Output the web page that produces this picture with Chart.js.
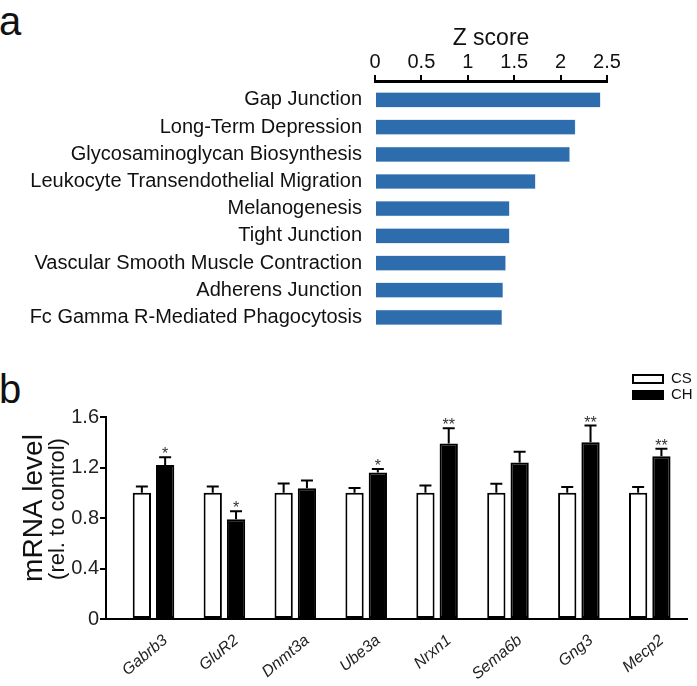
<!DOCTYPE html>
<html>
<head>
<meta charset="utf-8">
<script src="https://cdn.jsdelivr.net/npm/chart.js@4"></script>
<style>
  body { margin: 0; background: #fff; }
  #wrap { position: relative; width: 697px; height: 686px; font-family: 'Liberation Sans', Arial, sans-serif; }
  .panel { position: absolute; left: -1px; font-size: 40px; line-height: 1; color: #111; }
  canvas { position: absolute; left: 0; }
  .axis { position: absolute; background: #000; z-index: 5; }
</style>
</head>
<body>
<div id="wrap">
  <div class="panel" style="top:1px">a</div>
  <div class="panel" style="top:369px">b</div>
  <canvas id="zChart" width="697" height="340" style="top:0"></canvas>
  <canvas id="mrnaChart" width="697" height="346" style="top:340px"></canvas>
</div>
<script>
// panel a
const pathways = [
  'Gap Junction',
  'Long-Term Depression',
  'Glycosaminoglycan Biosynthesis',
  'Leukocyte Transendothelial Migration',
  'Melanogenesis',
  'Tight Junction',
  'Vascular Smooth Muscle Contraction',
  'Adherens Junction',
  'Fc Gamma R-Mediated Phagocytosis'
];
const zScores = [2.43, 2.16, 2.10, 1.73, 1.45, 1.45, 1.41, 1.38, 1.37];
const zTicks = [0, 0.5, 1, 1.5, 2, 2.5];

// panel b
const genes = ['Gabrb3', 'GluR2', 'Dnmt3a', 'Ube3a', 'Nrxn1', 'Sema6b', 'Gng3', 'Mecp2'];
const csValues = [1, 1, 1, 1, 1, 1, 1, 1];
const csErrors = [0.05, 0.05, 0.074, 0.037, 0.058, 0.072, 0.045, 0.045];
const chValues = [1.22, 0.79, 1.035, 1.16, 1.39, 1.24, 1.40, 1.29];
const chErrors = [0.062, 0.063, 0.063, 0.028, 0.121, 0.085, 0.132, 0.058];
const chStars = ['*', '*', '', '*', '**', '', '**', '**'];
const mrnaTicks = [0, 0.4, 0.8, 1.2, 1.6];

const FONT = "'Liberation Sans', Arial, sans-serif";
Chart.defaults.font.family = FONT;
Chart.defaults.color = '#111';

const zChart = new Chart(document.getElementById('zChart'), {
  type: 'bar',
  data: {
    datasets: [{
      data: zScores.map((v, i) => ({ x: v, y: i })),
      backgroundColor: '#2e6dad',
      borderColor: '#8fb2d8',
      borderWidth: 0.5,
      categoryPercentage: 1,
      barPercentage: 0.56
    }]
  },
  options: {
    indexAxis: 'y',
    responsive: false,
    animation: false,
    layout: { padding: { right: 90, bottom: 9 } },
    plugins: { legend: { display: false }, tooltip: { enabled: false } },
    scales: {
      x: {
        type: 'linear',
        position: 'top',
        min: 0,
        max: 2.5,
        afterBuildTicks: s => { s.ticks = zTicks.map(v => ({ value: v })); },
        afterFit: s => { s.height = 82; },
        ticks: { font: { size: 20 }, color: '#111', padding: 3, callback: v => String(v) },
        grid: { display: true, drawOnChartArea: false, drawTicks: true, tickLength: 5, color: '#000', lineWidth: 2 },
        border: { display: true, color: '#000', width: 2 },
        title: { display: true, text: 'Z score', font: { size: 23 }, color: '#111', padding: { top: 25, bottom: 0 } }
      },
      y: {
        type: 'linear',
        offset: false,
        reverse: true,
        min: -0.66,
        max: 8.5,
        afterBuildTicks: s => { s.ticks = pathways.map((p, i) => ({ value: i })); },
        afterFit: s => { s.width = 375; s.paddingTop = 0; s.paddingBottom = 0; },
        ticks: { font: { size: 20 }, color: '#111', padding: 13, callback: v => pathways[v] },
        grid: { display: false, drawTicks: false },
        border: { display: false }
      }
    }
  }
});

// the Z score axis line and tick marks, placed from the chart's own x scale
(function () {
  const s = zChart.scales.x;
  const wrap = document.getElementById('wrap');
  const y = Math.round(zChart.chartArea.top);
  const x0 = Math.round(s.getPixelForValue(zTicks[0]));
  const x1 = Math.round(s.getPixelForValue(zTicks[zTicks.length - 1]));
  const add = (l, t, w, h) => {
    const d = document.createElement('div');
    d.className = 'axis';
    d.style.cssText = 'left:' + l + 'px;top:' + t + 'px;width:' + w + 'px;height:' + h + 'px';
    wrap.appendChild(d);
  };
  add(x0 - 1, y - 2, x1 - x0 + 2, 2);
  zTicks.forEach(v => add(Math.round(s.getPixelForValue(v)) - 1, y - 7, 2, 6));
})();

// error bars + significance stars
const errorBars = {
  id: 'errorBars',
  afterDatasetsDraw(chart) {
    const ctx = chart.ctx;
    const yScale = chart.scales.y;
    chart.data.datasets.forEach((ds, di) => {
      const meta = chart.getDatasetMeta(di);
      meta.data.forEach((bar, i) => {
        const top = yScale.getPixelForValue(ds.data[i].y + ds.errors[i]);
        ctx.save();
        ctx.strokeStyle = '#000';
        ctx.lineWidth = 2;
        ctx.beginPath();
        ctx.moveTo(bar.x, bar.y);
        ctx.lineTo(bar.x, top);
        ctx.moveTo(bar.x - 6, top);
        ctx.lineTo(bar.x + 6, top);
        ctx.stroke();
        if (ds.stars && ds.stars[i]) {
          ctx.fillStyle = '#333';
          ctx.font = '16px ' + FONT;
          ctx.textAlign = 'center';
          ctx.textBaseline = 'alphabetic';
          ctx.fillText(ds.stars[i], bar.x, top + 2);
        }
        ctx.restore();
      });
    });
  }
};

// stacked legend in the top right corner + two line y title
const sideText = {
  id: 'sideText',
  afterDraw(chart) {
    const ctx = chart.ctx;
    ctx.save();
    chart.data.datasets.forEach((ds, i) => {
      const y = 34 + i * 16;
      ctx.fillStyle = ds.backgroundColor;
      ctx.fillRect(632, y, 32, 10);
      ctx.strokeStyle = '#000';
      ctx.lineWidth = 2;
      ctx.strokeRect(633, y + 1, 30, 8);
      ctx.fillStyle = '#111';
      ctx.font = '15px ' + FONT;
      ctx.textAlign = 'left';
      ctx.textBaseline = 'middle';
      ctx.fillText(ds.label, 671, y + 5);
    });
    ctx.textAlign = 'center';
    ctx.textBaseline = 'middle';
    ctx.fillStyle = '#111';
    ctx.save();
    ctx.translate(34, 168);
    ctx.rotate(-Math.PI / 2);
    ctx.font = '28px ' + FONT;
    ctx.fillText('mRNA level', 0, 0);
    ctx.restore();
    ctx.save();
    ctx.translate(58, 169);
    ctx.rotate(-Math.PI / 2);
    ctx.font = '22px ' + FONT;
    ctx.fillText('(rel. to control)', 0, 0);
    ctx.restore();
    ctx.restore();
  }
};

new Chart(document.getElementById('mrnaChart'), {
  type: 'bar',
  data: {
    datasets: [
      {
        label: 'CS',
        data: csValues.map((v, i) => ({ x: i, y: v })),
        errors: csErrors,
        backgroundColor: '#fff',
        borderColor: '#000',
        borderWidth: 2,
        borderSkipped: false
      },
      {
        label: 'CH',
        data: chValues.map((v, i) => ({ x: i, y: v })),
        errors: chErrors,
        stars: chStars,
        backgroundColor: '#000',
        borderColor: '#000',
        borderWidth: 2,
        borderSkipped: false
      }
    ]
  },
  options: {
    responsive: false,
    animation: false,
    categoryPercentage: 0.657,
    barPercentage: 0.785,
    layout: { padding: { top: 77, right: 10, bottom: 0 } },
    plugins: { legend: { display: false }, tooltip: { enabled: false } },
    scales: {
      x: {
        type: 'linear',
        offset: false,
        min: -0.67,
        max: 7.525,
        afterBuildTicks: s => { s.ticks = genes.map((g, i) => ({ value: i })); },
        afterFit: s => { s.height = 67; s.paddingLeft = 0; s.paddingRight = 0; },
        ticks: {
          font: { size: 16, style: 'italic' },
          color: '#222',
          minRotation: 40,
          maxRotation: 40,
          padding: 12,
          labelOffset: 12,
          callback: v => genes[v]
        },
        grid: { drawOnChartArea: false, drawTicks: false },
        border: { display: true, color: '#000', width: 2 }
      },
      y: {
        min: 0,
        max: 1.6,
        afterBuildTicks: s => { s.ticks = mrnaTicks.map(v => ({ value: v })); },
        afterFit: s => { s.width = 106; },
        ticks: { font: { size: 20 }, color: '#222', padding: 1, callback: v => (v === 0 ? '0' : v.toFixed(1)) },
        grid: { drawOnChartArea: false, drawTicks: true, tickLength: 6, color: '#000', lineWidth: 2 },
        border: { display: true, color: '#000', width: 2 }
      }
    }
  },
  plugins: [errorBars, sideText]
});
</script>
</body>
</html>
